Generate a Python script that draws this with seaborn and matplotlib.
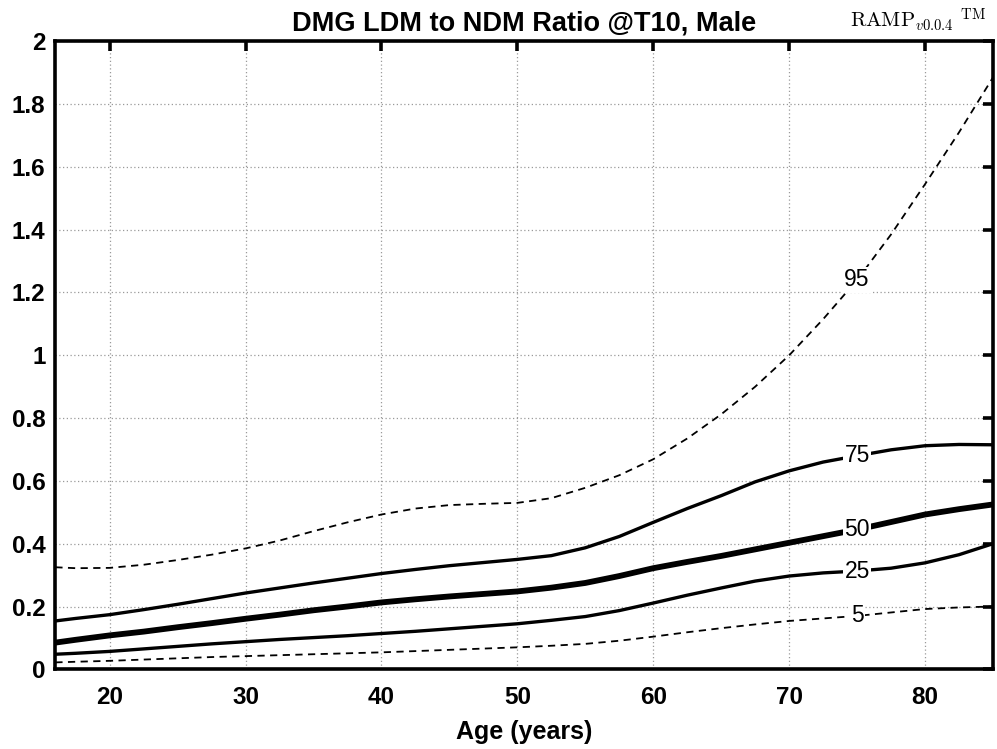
import matplotlib
matplotlib.use("Agg")
import matplotlib.pyplot as plt
import matplotlib.ticker as mticker
import pandas as pd
import seaborn as sns

# percentile curves, every 2.5 years
ages = [16, 17.5, 20, 22.5, 25, 27.5, 30, 32.5, 35, 37.5, 40, 42.5, 45, 47.5, 50,
        52.5, 55, 57.5, 60, 62.5, 65, 67.5, 70, 72.5, 75, 77.5, 80, 82.5, 85]
p95 = [0.325, 0.322, 0.323, 0.333, 0.348, 0.365, 0.385, 0.41, 0.44, 0.468, 0.493,
       0.512, 0.523, 0.527, 0.530, 0.545, 0.578, 0.618, 0.669, 0.735, 0.812, 0.9,
       1.0, 1.115, 1.24, 1.385, 1.545, 1.71, 1.885]
p75 = [0.154, 0.162, 0.174, 0.19, 0.207, 0.225, 0.243, 0.259, 0.275, 0.29, 0.305,
       0.318, 0.33, 0.34, 0.35, 0.362, 0.387, 0.423, 0.468, 0.512, 0.553, 0.597,
       0.632, 0.66, 0.68, 0.699, 0.712, 0.716, 0.715]
p50 = [0.085, 0.094, 0.108, 0.12, 0.134, 0.147, 0.161, 0.174, 0.188, 0.2, 0.213,
       0.223, 0.232, 0.24, 0.248, 0.26, 0.275, 0.297, 0.322, 0.342, 0.361, 0.382,
       0.403, 0.424, 0.445, 0.469, 0.493, 0.51, 0.525]
p25 = [0.048, 0.051, 0.057, 0.065, 0.073, 0.081, 0.088, 0.095, 0.101, 0.107, 0.114,
       0.121, 0.129, 0.137, 0.145, 0.156, 0.168, 0.187, 0.211, 0.236, 0.259, 0.281,
       0.297, 0.307, 0.313, 0.322, 0.339, 0.365, 0.40]
p5 = [0.022, 0.024, 0.027, 0.031, 0.035, 0.039, 0.042, 0.045, 0.048, 0.051, 0.054,
      0.058, 0.062, 0.066, 0.07, 0.075, 0.081, 0.091, 0.104, 0.118, 0.131, 0.143,
      0.154, 0.162, 0.17, 0.181, 0.192, 0.197, 0.20]

curves = {"5": p5, "25": p25, "50": p50, "75": p75, "95": p95}
label_age = 75

sns.set_style("white")
plt.rcParams["font.family"] = ["Liberation Sans", "DejaVu Sans"]
plt.rcParams["mathtext.fontset"] = "cm"
for key in ["text.color", "axes.labelcolor", "xtick.color", "ytick.color"]:
    plt.rcParams[key] = "black"

fig = plt.figure(figsize=(9.97, 7.49), dpi=100)
ax = fig.add_axes([0.0555, 0.1064, 0.9405, 0.8385])

styles = {
    "5": dict(lw=1.3, dashes=(4, 3)),
    "25": dict(lw=2.4, dashes=()),
    "50": dict(lw=4.2, dashes=()),
    "75": dict(lw=2.4, dashes=()),
    "95": dict(lw=1.3, dashes=(4, 3)),
}

for name, vals in curves.items():
    df = pd.DataFrame({"age": ages, "ratio": vals})
    st = styles[name]
    sns.lineplot(data=df, x="age", y="ratio", ax=ax, color="black",
                 lw=st["lw"], sort=False, zorder=3)
    ln = ax.lines[-1]
    ln.set_solid_joinstyle("round")
    if st["dashes"]:
        ln.set_dashes(st["dashes"])
    i = ages.index(label_age)
    ax.text(label_age, vals[i], name, ha="center", va="center", fontsize=16.5,
            color="black", zorder=5,
            bbox=dict(facecolor="white", edgecolor="none", pad=1.0))

ax.set_xlim(16, 85)
ax.set_ylim(0, 2)
ax.set_xticks(range(20, 81, 10))
ax.set_yticks([i * 0.2 for i in range(11)])
ax.yaxis.set_major_formatter(mticker.FormatStrFormatter("%g"))
ax.grid(True, linestyle=(0, (1, 2)), color="#9a9a9a", lw=0.9)

for sp in ax.spines.values():
    sp.set_linewidth(2.6)
    sp.set_color("black")
ax.tick_params(direction="in", length=7, width=2.6, top=True, right=True,
               labelsize=17.5, colors="black")
ax.tick_params(axis="x", pad=12)
ax.tick_params(axis="y", pad=7)
for lab in ax.get_xticklabels() + ax.get_yticklabels():
    lab.set_fontweight("bold")

ax.set_xlabel("Age (years)", fontsize=18, fontweight="bold", labelpad=8,
              color="black")
ax.set_ylabel("")
ax.set_title("DMG LDM to NDM Ratio @T10, Male", fontsize=19.5,
             fontweight="bold", pad=7.5, color="black")
fig.text(0.853, 0.963, r"$\mathrm{RAMP}_{v0.0.4}\ ^{\mathrm{TM}}$", fontsize=15,
         ha="left", va="baseline", color="black")

fig.savefig("out.png", dpi=100)
